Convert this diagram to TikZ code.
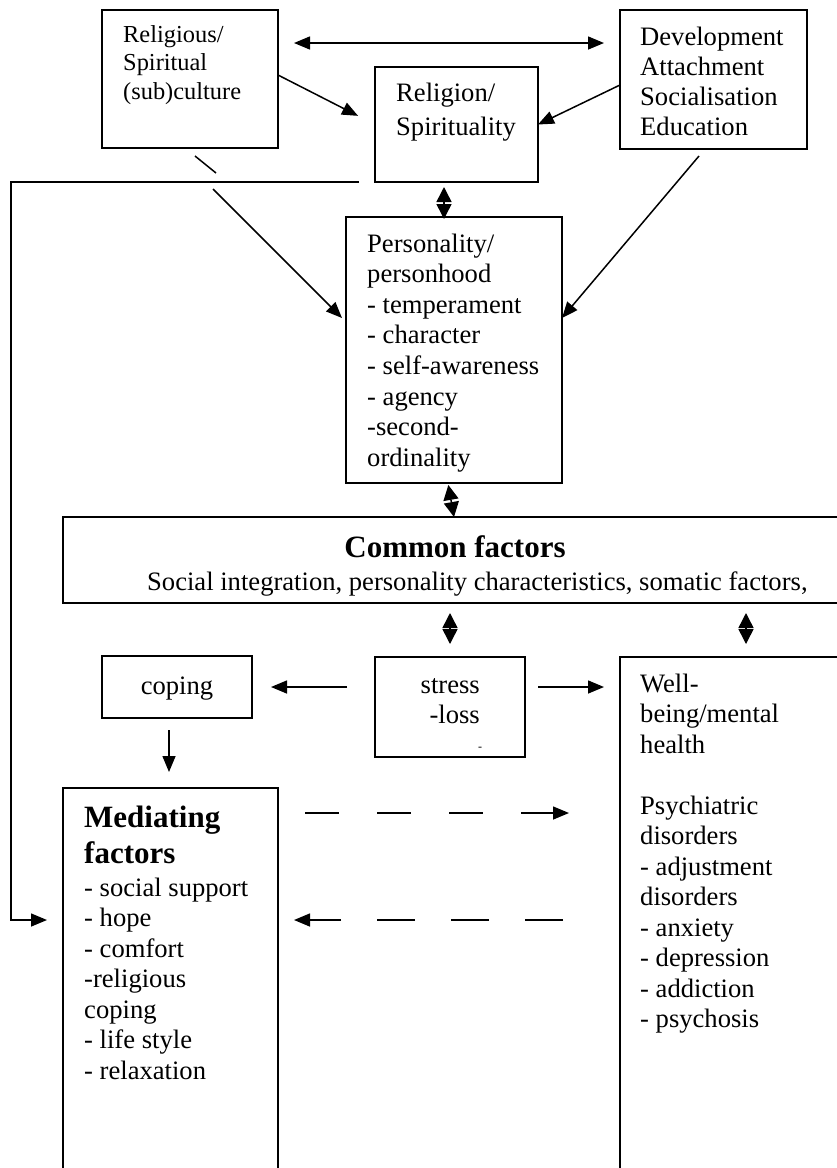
\documentclass[tikz,border=0pt]{standalone}
\usepackage{fontspec}
\setmainfont{Liberation Serif}
\usetikzlibrary{arrows.meta}
\begin{document}
\begin{tikzpicture}[x=1pt,y=-1pt,
  boxframe/.style={draw, line width=1.6pt, inner sep=0pt, outer sep=0pt},
  boxhold/.style={inner sep=0pt, outer sep=0pt},
  openline/.style={line width=1.6pt},
  txtbody/.style={inner sep=0pt, anchor=base west, font=\fontsize{26.6}{30.6}\selectfont},
  txtsmall/.style={inner sep=0pt, anchor=base west, font=\fontsize{24.4}{28.5}\selectfont},
  txthead/.style={inner sep=0pt, anchor=base west, font=\fontsize{31}{36}\selectfont\bfseries},
  arr/.style={line width=1.5pt, -{Triangle[length=16pt,width=13pt]}},
  dbl/.style={line width=1.5pt, {Triangle[length=15pt,width=15pt]}-{Triangle[length=15pt,width=15pt]}},
  dblwide/.style={line width=1.5pt, {Triangle[length=16pt,width=13pt]}-{Triangle[length=16pt,width=13pt]}},
  longdash/.style={dash pattern=on 34pt off 38pt}
]
\useasboundingbox (0,0) rectangle (837,1168);

% ---------- boxes ----------
\node[boxframe, minimum width=176pt, minimum height=138pt] (cult) at (190,79) {};
\node[boxframe, minimum width=163pt, minimum height=115pt] (rel) at (456.5,124.5) {};
\node[boxframe, minimum width=187pt, minimum height=139pt] (dev) at (713.5,79.5) {};
\node[boxframe, minimum width=216pt, minimum height=266pt] (pers) at (454,350) {};
\node[boxhold, minimum width=774pt, minimum height=86pt] (com) at (450,560) {};
\draw[openline] (com.north east) -- (com.north west) -- (com.south west) -- (com.south east);
\node[boxframe, minimum width=150pt, minimum height=62pt] (cop) at (177,687) {};
\node[boxframe, minimum width=150pt, minimum height=100pt] (str) at (450,707) {};
\node[boxhold, minimum width=215pt, minimum height=380pt] (med) at (170.5,978) {};
\draw[openline] (med.south west) -- (med.north west) -- (med.north east) -- (med.south east);
\node[boxhold, minimum width=217pt, minimum height=511pt] (wb) at (728.5,912.5) {};
\draw[openline] (wb.north east) -- (wb.north west) -- (wb.south west);

% ---------- texts ----------
\foreach \t [count=\i from 0] in {Religious/, Spiritual, (sub)culture}
  \node[txtsmall] (cult-\i) at ({123},{42+28.5*\i}) {\t};
\node[txtbody] (rel-0) at (396,101) {Religion/};
\node[txtbody] (rel-1) at (396,135) {Spirituality};
\foreach \t [count=\i from 0] in {Development, Attachment, Socialisation, Education}
  \node[txtbody] (dev-\i) at ({640},{45+30.3*\i}) {\t};
\foreach \t [count=\i from 0] in {Personality/, personhood, - temperament, - character, - self-awareness, - agency, -second-, ordinality}
  \node[txtbody] (pers-\i) at ({367},{252+30.6*\i}) {\t};
\node[txthead, anchor=base] (com-title) at (455,557) {Common factors};
\node[txtbody] (com-sub) at (147,590) {Social integration, personality characteristics, somatic factors,};
\node[txtbody, anchor=base] (cop-t) at (177,694) {coping};
\node[txtbody, anchor=base east] (str-0) at (480,693) {stress};
\node[txtbody, anchor=base east] (str-1) at (480,723) {-loss};
\node[inner sep=0pt, anchor=base west, font=\fontsize{12}{14}\selectfont] (str-2) at (478,750) {-};
\node[txthead] (med-0) at (84,827) {Mediating};
\node[txthead] (med-1) at (84,863) {factors};
\foreach \t [count=\i from 0] in {- social support, - hope, - comfort, -religious, coping, - life style, - relaxation}
  \node[txtbody] (med-l\i) at ({84},{896+30.5*\i}) {\t};
\foreach \t [count=\i from 0] in {Well-, being/mental, health}
  \node[txtbody] (wb-a\i) at ({640},{692+30.5*\i}) {\t};
\foreach \t [count=\i from 0] in {Psychiatric, disorders, - adjustment, disorders, - anxiety, - depression, - addiction, - psychosis}
  \node[txtbody] (wb-b\i) at ({640},{814+30.5*\i}) {\t};

% ---------- connectors ----------
\draw[dblwide, shorten <=16pt, shorten >=16pt] ([yshift=36pt]cult.east) -- ([yshift=36.5pt]dev.west);
\draw[arr, shorten >=19pt] ([yshift=4pt]cult.east) -- (rel.west);
\draw[arr] ([yshift=-5.5pt]dev.west) -- (rel.east);

\coordinate (b1) at (195,156);
\coordinate (b2) at (216,173);
\coordinate (b3) at (213,189);
\draw[openline, line width=1.5pt] (b1) -- (b2);
\draw[arr] (b3) -- ([xshift=-4pt,yshift=32pt]pers.west);
\draw[arr] ([xshift=-14.5pt,yshift=-7pt]dev.south) -- ([yshift=32pt]pers.east);

\draw[dbl, shorten <=5pt, shorten >=-2pt] ([xshift=-12.5pt]rel.south) -- ([xshift=-10pt]pers.north);
\draw[dbl, shorten <=2pt] ([xshift=-6pt]pers.south) -- (pers.south |- com.north);
\draw[dbl, shorten <=10pt, shorten >=13pt] (com.south -| str.north) -- (str.north);
\coordinate (wbtop) at (746,657);
\draw[dbl, shorten <=10pt, shorten >=13pt] (com.south -| wbtop) -- (wbtop);

\draw[arr, shorten <=28pt, shorten >=19pt] ([yshift=20pt]str.west) -- ([yshift=20pt]str.west -| cop.east);
\draw[arr, shorten <=13pt, shorten >=16pt] ([yshift=20pt]str.east) -- ([yshift=20pt]str.east -| wb.west);
\draw[arr, shorten <=12pt, shorten >=16pt] ([xshift=-8pt]cop.south) -- ([xshift=-8pt]cop.south |- med.north);

\coordinate (fbA) at (11,182);
\coordinate (fbB) at (11,920);
\draw[arr, shorten <=16pt, shorten >=16pt] (rel.south west) -- (fbA) -- (fbB) -- (fbB -| med.west);

\coordinate (dt1) at (305,813);
\coordinate (dt2) at (569,813);
\draw[arr, longdash] (dt1) -- (dt2);
\coordinate (db1) at (563,920);
\coordinate (db2) at (294,920);
\draw[arr, dash pattern=on 38pt off 36pt] (db1) -- (db2);
\end{tikzpicture}
\end{document}
